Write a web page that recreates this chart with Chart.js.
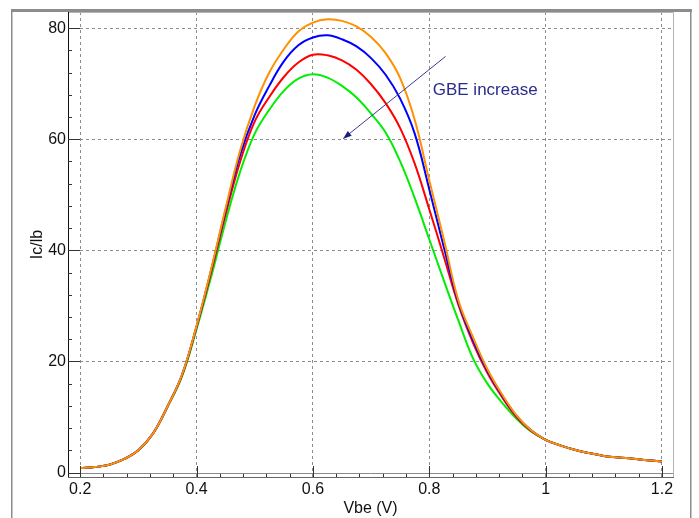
<!DOCTYPE html>
<html>
<head>
<meta charset="utf-8">
<script src="https://cdn.jsdelivr.net/npm/chart.js@4.4.1/dist/chart.umd.min.js"></script>
<style>
  html, body { margin: 0; padding: 0; background: #fff; }
</style>
</head>
<body>
<canvas id="chart" width="699" height="518"></canvas>
<script>
// Vbe (V) sample points
const vbe = [0.2, 0.225, 0.25, 0.275, 0.3, 0.325, 0.35, 0.375, 0.4, 0.425,
  0.45, 0.475, 0.5, 0.525, 0.55, 0.575, 0.6, 0.625, 0.65, 0.675,
  0.7, 0.725, 0.75, 0.775, 0.8, 0.825, 0.85, 0.875, 0.9, 0.925,
  0.95, 0.975, 1.0, 1.025, 1.05, 1.075, 1.1, 1.125, 1.15, 1.175, 1.2];

// Ic/Ib, one curve per GBE value
const gainGreen = [0.8, 1.0, 1.4, 2.4, 4.0, 7.0, 11.8, 17.3, 25.8, 35.2,
  45.2, 54.2, 61.0, 65.3, 68.7, 70.9, 71.7, 71.1, 69.6, 67.5,
  64.6, 61.2, 56.0, 49.4, 42.0, 34.6, 27.4, 20.6, 16.0, 12.6,
  9.7, 7.4, 5.9, 4.9, 4.1, 3.5, 3.0, 2.7, 2.5, 2.2, 2.0];
const gainRed = [0.8, 1.0, 1.4, 2.4, 4.0, 7.0, 11.9, 17.5, 26.2, 36.0,
  46.5, 56.0, 63.2, 67.6, 71.2, 73.8, 75.2, 75.1, 74.2, 72.5,
  69.9, 66.5, 62.0, 55.6, 47.4, 38.9, 30.2, 23.4, 17.9, 13.6,
  10.0, 7.5, 5.9, 4.9, 4.1, 3.5, 3.0, 2.7, 2.5, 2.2, 2.0];
const gainBlue = [0.8, 1.0, 1.4, 2.4, 4.0, 7.0, 11.9, 17.6, 26.3, 36.4,
  47.2, 57.2, 64.4, 69.6, 74.0, 76.9, 78.3, 78.7, 78.0, 76.7,
  74.6, 71.6, 67.3, 61.0, 51.0, 40.6, 30.7, 23.9, 18.3, 13.9,
  10.2, 7.6, 5.9, 4.9, 4.1, 3.5, 3.0, 2.7, 2.5, 2.2, 2.0];
const gainOrange = [0.8, 1.0, 1.4, 2.4, 4.0, 7.0, 11.9, 17.6, 26.4, 36.6,
  47.6, 58.0, 66.0, 72.0, 76.2, 79.4, 81.0, 81.6, 81.3, 80.3,
  78.4, 75.5, 71.0, 63.5, 52.6, 42.0, 31.0, 24.4, 18.6, 14.1,
  10.3, 7.6, 5.9, 4.9, 4.1, 3.5, 3.0, 2.7, 2.5, 2.2, 2.0];

const xTicks = [0.2, 0.4, 0.6, 0.8, 1, 1.2];
const yTicks = [0, 20, 40, 60, 80];

// annotation arrow, in data units
const arrowFrom = { x: 0.828, y: 74.9 };
const arrowTo = { x: 0.652, y: 60.1 };
const noteText = 'GBE increase';
const notePos = { x: 0.806, y: 68.0 };

const FONT = 'Liberation Sans, Arial, Helvetica, sans-serif';

function toPoints(ys) {
  return vbe.map((x, i) => ({ x, y: ys[i] }));
}

function curve(label, ys, color, order) {
  return {
    label,
    data: toPoints(ys),
    borderColor: color,
    backgroundColor: color,
    borderWidth: 2,
    pointRadius: 0,
    tension: 0.4,
    order,
  };
}

const frame = {
  id: 'frame',
  beforeDatasetsDraw(chart) {
    const { ctx, chartArea: a, scales } = chart;
    const y0 = Math.round(scales.y.getPixelForValue(0)) + 0.5;
    ctx.save();
    ctx.strokeStyle = '#8a8a8a';
    ctx.lineWidth = 1;
    ctx.beginPath();
    ctx.moveTo(a.left, y0);
    ctx.lineTo(a.right, y0);
    ctx.stroke();
    ctx.restore();
  },
  afterDraw(chart) {
    const { ctx, chartArea: a, scales } = chart;
    const xs = scales.x;
    const ys = scales.y;
    ctx.save();

    // outer panel frame
    ctx.fillStyle = '#8c8c8c';
    ctx.fillRect(11, 9, 681, 3);
    ctx.fillRect(11, 9, 1.5, 509);
    ctx.fillRect(690, 9, 1.5, 509);

    // plot border: light top/right, dark left/bottom
    ctx.lineWidth = 1;
    ctx.strokeStyle = '#b4b4b4';
    ctx.beginPath();
    ctx.moveTo(a.left, a.top + 0.5);
    ctx.lineTo(a.right + 0.5, a.top + 0.5);
    ctx.lineTo(a.right + 0.5, a.bottom);
    ctx.stroke();

    ctx.strokeStyle = '#111';
    ctx.beginPath();
    ctx.moveTo(a.left + 0.5, a.top);
    ctx.lineTo(a.left + 0.5, a.bottom + 0.5);
    ctx.stroke();
    ctx.strokeStyle = '#666';
    ctx.beginPath();
    ctx.moveTo(a.left, a.bottom + 0.5);
    ctx.lineTo(a.right + 1, a.bottom + 0.5);
    ctx.stroke();

    // y ticks (inward)
    ctx.strokeStyle = '#333';
    ctx.beginPath();
    for (let v = 0; v <= 80.01; v += 4) {
      const py = Math.round(ys.getPixelForValue(v)) + 0.5;
      const len = v % 20 === 0 ? 12 : 4;
      ctx.moveTo(a.left, py);
      ctx.lineTo(a.left + len, py);
    }
    // x ticks (inward)
    for (let k = 0; k <= 25; k++) {
      const v = 0.2 + k * 0.04;
      const px = Math.round(xs.getPixelForValue(v)) + 0.5;
      const len = k % 5 === 0 ? 11 : 3;
      ctx.moveTo(px, a.bottom);
      ctx.lineTo(px, a.bottom - len);
    }
    ctx.stroke();

    // annotation
    const x1 = xs.getPixelForValue(arrowFrom.x);
    const y1 = ys.getPixelForValue(arrowFrom.y);
    const x2 = xs.getPixelForValue(arrowTo.x);
    const y2 = ys.getPixelForValue(arrowTo.y);
    const ang = Math.atan2(y2 - y1, x2 - x1);
    ctx.strokeStyle = '#3b3b90';
    ctx.lineWidth = 1;
    ctx.beginPath();
    ctx.moveTo(x1, y1);
    ctx.lineTo(x2, y2);
    ctx.stroke();
    ctx.fillStyle = '#1c1c80';
    ctx.beginPath();
    ctx.moveTo(x2, y2);
    ctx.lineTo(x2 - 9 * Math.cos(ang - 0.35), y2 - 9 * Math.sin(ang - 0.35));
    ctx.lineTo(x2 - 9 * Math.cos(ang + 0.35), y2 - 9 * Math.sin(ang + 0.35));
    ctx.closePath();
    ctx.fill();

    ctx.fillStyle = '#2b2b8c';
    ctx.font = '17px ' + FONT;
    ctx.textBaseline = 'alphabetic';
    ctx.fillText(noteText, xs.getPixelForValue(notePos.x), ys.getPixelForValue(notePos.y));
    ctx.restore();
  },
};

const gridColor = (c) => (c.tick && c.tick.value === 0 ? 'rgba(0,0,0,0)' : '#8c8c8c');

const canvas = document.querySelector('#chart');
// eslint-disable-next-line no-undef
new Chart(canvas.getContext('2d'), {
  type: 'line',
  data: {
    datasets: [
      curve('GBE 1', gainGreen, '#00ee00', 4),
      curve('GBE 2', gainRed, '#ff0000', 3),
      curve('GBE 3', gainBlue, '#0000ff', 2),
      curve('GBE 4', gainOrange, '#ff9000', 1),
    ],
  },
  options: {
    responsive: false,
    animation: false,
    parsing: false,
    layout: { padding: { top: 12, right: 26, left: 0, bottom: 0 } },
    plugins: { legend: { display: false }, tooltip: { enabled: false } },
    scales: {
      x: {
        type: 'linear',
        min: 0.179,
        max: 1.219,
        afterBuildTicks: (s) => { s.ticks = xTicks.map((value) => ({ value })); },
        afterFit: (s) => { s.height = 41; },
        ticks: {
          padding: 3,
          color: '#111',
          font: { family: FONT, size: 16 },
          callback: (v) => String(v),
        },
        grid: { color: '#8c8c8c', lineWidth: 1, drawTicks: false },
        border: { display: false, dash: [3, 3] },
        title: {
          display: true,
          text: 'Vbe (V)',
          color: '#111',
          font: { family: FONT, size: 16 },
          padding: { top: 0, bottom: 0 },
        },
      },
      y: {
        type: 'linear',
        min: -0.8,
        max: 82.9,
        afterBuildTicks: (s) => { s.ticks = yTicks.map((value) => ({ value })); },
        afterFit: (s) => { s.width = 68; },
        ticks: {
          padding: 2,
          color: '#111',
          font: { family: FONT, size: 16 },
        },
        grid: { color: gridColor, lineWidth: 1, drawTicks: false },
        border: { display: false, dash: [3, 3] },
        title: {
          display: true,
          text: 'Ic/lb',
          color: '#111',
          font: { family: FONT, size: 16 },
          padding: { top: 28, bottom: 0 },
        },
      },
    },
  },
  plugins: [frame],
});
</script>
</body>
</html>
